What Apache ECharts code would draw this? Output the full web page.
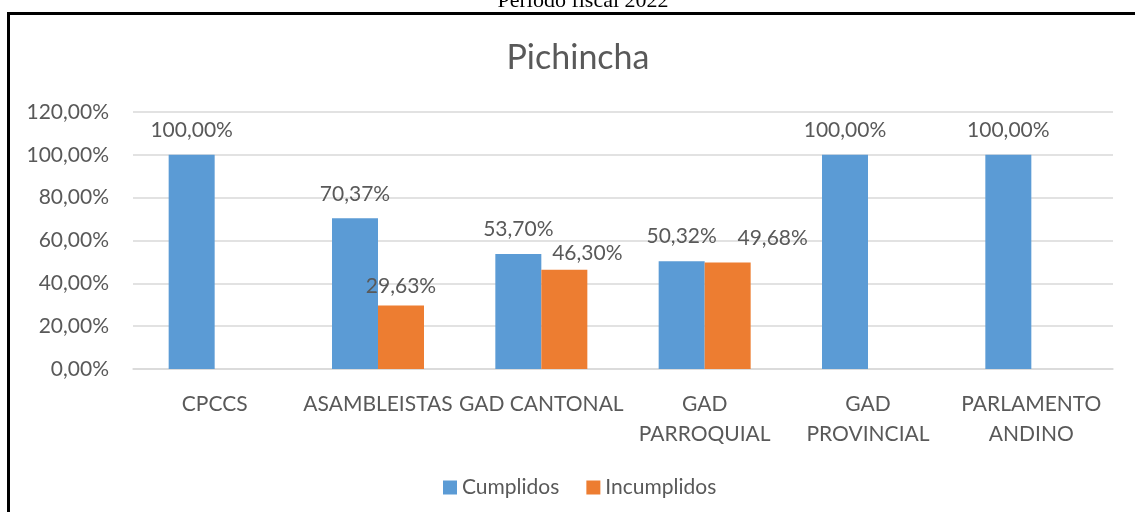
<!DOCTYPE html>
<html>
<head>
<meta charset="utf-8">
<script src="https://cdn.jsdelivr.net/npm/echarts@6/dist/echarts.min.js"></script>
<style>
  html, body { margin: 0; padding: 0; background: #fff; overflow: hidden; }
  #chart { width: 1135px; height: 512px; position: absolute; left: 0; top: 0; }
  #frame { position: absolute; left: 7px; top: 12px; width: 1140px; height: 520px;
           border: 3px solid #000; border-right: none; pointer-events: none; }
</style>
</head>
<body>
<div id="chart"></div>
<div id="frame"></div>
<script>
// categorias y valores (porcentajes)
var categorias = ['CPCCS', 'ASAMBLEISTAS', 'GAD CANTONAL', 'GAD\nPARROQUIAL', 'GAD\nPROVINCIAL', 'PARLAMENTO\nANDINO'];
var cumplidos = [100, 70.37, 53.70, 50.32, 100, 100];
var incumplidos = [null, 29.63, 46.30, 49.68, null, null];
var y_ticks = [0, 20, 40, 60, 80, 100, 120];

var fuente = 'Lato';
var gris = '#595959';

function pct(v) {
    return v.toFixed(2).replace('.', ',') + '%';
}

// pequeños ajustes de etiquetas como en el original (Excel las separa)
function conEtiquetas(valores, desplaza) {
    var out = [];
    for (var i = 0; i < valores.length; i++) {
        var item = { value: valores[i] };
        if (desplaza[i]) {
            item.label = { offset: desplaza[i] };
        }
        out.push(item);
    }
    return out;
}

var myChart = echarts.init(document.getElementById('chart'));

var option = {
    animation: false,
    title: {
        text: 'Pichincha',
        left: 573,
        textAlign: 'center',
        top: 36,
        textStyle: { fontFamily: fuente, fontSize: 34, fontWeight: 'normal', color: gris }
    },
    graphic: [{
        type: 'text',
        x: 583,
        y: 12,
        style: {
            text: 'Período fiscal 2022',
            font: '22px "Liberation Serif"',
            fill: '#000',
            align: 'center',
            verticalAlign: 'bottom'
        }
    }],
    legend: {
        data: ['Cumplidos', 'Incumplidos'],
        left: 438,
        top: 472,
        icon: 'rect',
        itemWidth: 14,
        itemHeight: 14,
        itemGap: 27,
        textStyle: { fontFamily: fuente, fontSize: 21, color: gris }
    },
    grid: {
        left: 133,
        right: 22,
        top: 112,
        bottom: 143
    },
    xAxis: {
        type: 'category',
        data: categorias,
        axisLine: { lineStyle: { color: '#d9d9d9', width: 1.5 } },
        axisTick: { show: false },
        axisLabel: {
            fontFamily: fuente, fontSize: 21, color: gris,
            margin: 20, lineHeight: 30, interval: 0
        }
    },
    yAxis: {
        type: 'value',
        min: y_ticks[0],
        max: y_ticks[y_ticks.length - 1],
        interval: 20,
        axisLine: { show: false },
        axisTick: { show: false },
        splitLine: { lineStyle: { color: '#d9d9d9', width: 1.5 } },
        axisLabel: {
            fontFamily: fuente, fontSize: 21, color: gris, margin: 24,
            formatter: function (v) { return pct(v); }
        }
    },
    series: [
        {
            name: 'Cumplidos',
            type: 'bar',
            data: conEtiquetas(cumplidos, {}),
            itemStyle: { color: '#5b9bd5' },
            barWidth: 46,
            barGap: '0%',
            label: {
                show: true, position: 'top', distance: 14,
                fontFamily: fuente, fontSize: 21, color: gris,
                formatter: function (p) { return pct(p.value); }
            }
        },
        {
            name: 'Incumplidos',
            type: 'bar',
            data: conEtiquetas(incumplidos, { 1: [0, 5], 2: [23, 8], 3: [45, 0] }),
            itemStyle: { color: '#ed7d31' },
            barWidth: 46,
            barGap: '0%',
            label: {
                show: true, position: 'top', distance: 14,
                fontFamily: fuente, fontSize: 21, color: gris,
                formatter: function (p) { return p.value == null ? '' : pct(p.value); }
            }
        }
    ]
};

myChart.setOption(option);
</script>
</body>
</html>
